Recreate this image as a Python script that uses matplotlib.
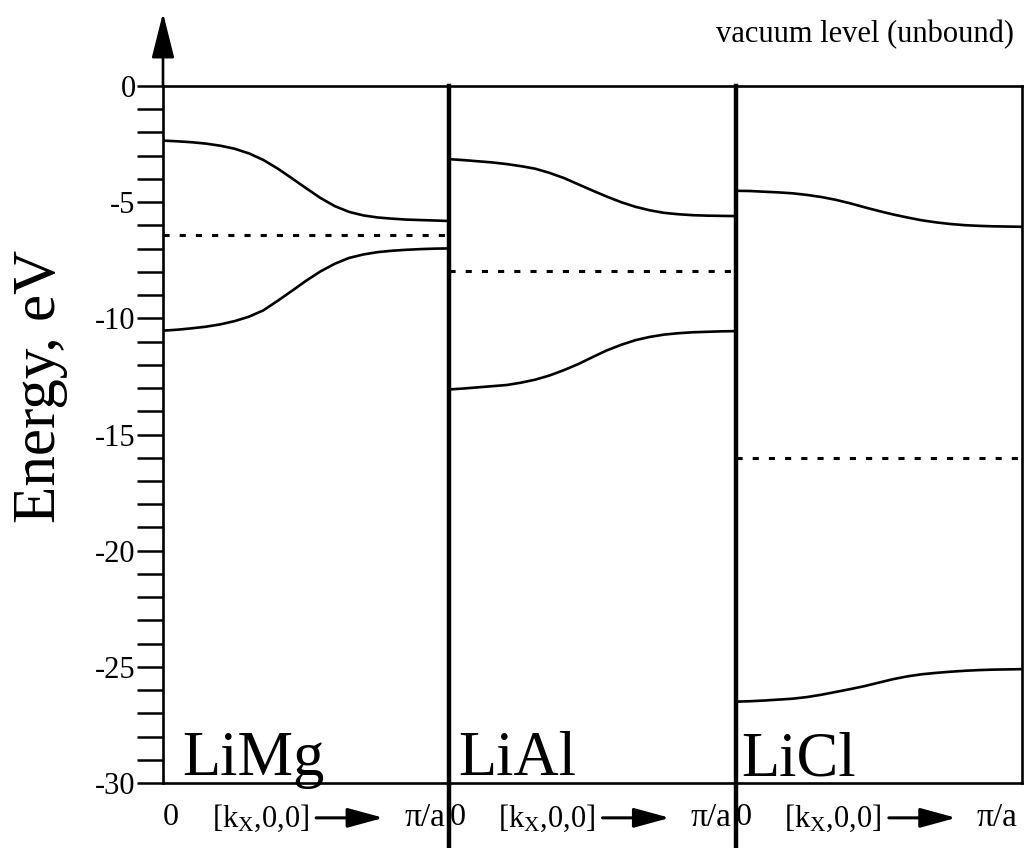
import numpy as np
import matplotlib
matplotlib.use('Agg')
import matplotlib.pyplot as plt
from matplotlib.ticker import MultipleLocator

plt.rcParams['font.family'] = ['Liberation Serif', 'DejaVu Serif']
plt.rcParams['mathtext.fontset'] = 'custom'
plt.rcParams['mathtext.rm'] = 'Liberation Serif'
plt.rcParams['mathtext.it'] = 'Liberation Serif:italic'
plt.rcParams['axes.unicode_minus'] = False

# k along [kx,0,0], in units of pi/a
k = [0.00, 0.05, 0.10, 0.15, 0.20, 0.25, 0.30, 0.35, 0.40, 0.45, 0.50,
     0.55, 0.60, 0.65, 0.70, 0.75, 0.80, 0.85, 0.90, 0.95, 1.00]

compounds = ['LiMg', 'LiAl', 'LiCl']

# upper bands, eV
upper_limg = [-2.35, -2.38, -2.42, -2.48, -2.57, -2.70, -2.90, -3.18, -3.55, -3.97, -4.40,
              -4.82, -5.17, -5.42, -5.57, -5.66, -5.71, -5.75, -5.77, -5.79, -5.81]
upper_lial = [-3.15, -3.19, -3.24, -3.29, -3.36, -3.45, -3.56, -3.74, -3.96, -4.23, -4.50,
              -4.76, -5.00, -5.20, -5.35, -5.46, -5.52, -5.56, -5.58, -5.59, -5.60]
upper_licl = [-4.51, -4.52, -4.55, -4.58, -4.62, -4.69, -4.78, -4.90, -5.05, -5.22, -5.38,
              -5.53, -5.66, -5.78, -5.87, -5.94, -5.99, -6.02, -6.04, -6.05, -6.06]

# lower bands, eV
lower_limg = [-10.53, -10.49, -10.43, -10.36, -10.26, -10.12, -9.93, -9.66, -9.25, -8.82, -8.38,
              -7.98, -7.65, -7.40, -7.25, -7.15, -7.09, -7.05, -7.02, -7.00, -6.99]
lower_lial = [-13.06, -13.02, -12.97, -12.92, -12.87, -12.77, -12.64, -12.46, -12.23, -11.97, -11.67,
              -11.38, -11.14, -10.94, -10.80, -10.70, -10.64, -10.60, -10.58, -10.56, -10.55]
lower_licl = [-26.50, -26.48, -26.45, -26.41, -26.37, -26.30, -26.20, -26.08, -25.96, -25.83, -25.68,
              -25.53, -25.41, -25.32, -25.26, -25.21, -25.17, -25.14, -25.12, -25.11, -25.10]

# dotted levels, eV
fermi = [-6.41, -7.96, -16.03]

uppers = [upper_limg, upper_lial, upper_licl]
lowers = [lower_limg, lower_lial, lower_licl]

fig = plt.figure(figsize=(10.29, 8.48), dpi=100)
axs = fig.subplots(1, 3, sharey=True,
                   gridspec_kw=dict(wspace=0, left=163/1029, right=1022/1029,
                                    bottom=1-783/848, top=1-86/848))

lab_x = [0.066, 0.03, 0.02]

for i, ax in enumerate(axs):
    ax.plot(k, uppers[i], color='k', lw=1.9)
    ax.plot(k, lowers[i], color='k', lw=1.9)
    ax.axhline(fermi[i], color='k', lw=2.2, dashes=[2.0, 3.3])
    ax.set_xlim(0, 1)
    ax.set_ylim(-30, 0)
    ax.set_xticks([])
    for s in ax.spines.values():
        s.set_linewidth(1.9)
    ax.text(lab_x[i], 0.011, compounds[i], transform=ax.transAxes,
            fontsize=45, va='baseline', ha='left')

    # bottom k-axis annotation
    ax.text(0.028, -0.05, '0', transform=ax.transAxes, fontsize=23,
            ha='center', va='center')
    ax.text(0.17, -0.05, r'$[\mathrm{k}_\mathrm{X}{,}\mathrm{0}{,}\mathrm{0}]$',
            transform=ax.transAxes, fontsize=22, ha='left', va='center')
    ax.annotate('', xy=(0.77, -0.05), xytext=(0.535, -0.05),
                xycoords='axes fraction', textcoords='axes fraction',
                arrowprops=dict(arrowstyle='-|>,head_length=2.2,head_width=0.6',
                                mutation_scale=10, lw=2.2, color='k',
                                shrinkA=0, shrinkB=0))
    ax.text(0.985, -0.05, 'π/a', transform=ax.transAxes, fontsize=24,
            ha='right', va='center')

# left energy axis
ax0 = axs[0]
ax0.yaxis.set_major_locator(MultipleLocator(5))
ax0.yaxis.set_minor_locator(MultipleLocator(1))
ax0.tick_params(axis='y', which='both', direction='out', length=18.7,
                width=1.8, labelsize=22, pad=1)
ax0.spines['right'].set_visible(False)
fig.text(40/1029, 1-386/848, 'Energy, eV', fontsize=44, rotation=90,
         ha='center', va='center')
ax0.annotate('', xy=(0, 1.105), xytext=(0, 1.0),
             xycoords='axes fraction', textcoords='axes fraction',
             arrowprops=dict(arrowstyle='-|>,head_length=2.8,head_width=0.7',
                             mutation_scale=10, lw=1.9, color='k',
                             shrinkA=0, shrinkB=0))

for ax in axs[1:]:
    ax.tick_params(axis='y', which='both', left=False, labelleft=False)
    ax.spines['left'].set_linewidth(3.2)
    # panel divider runs down through the k labels
    ax.plot([0, 0], [-0.1, 0], transform=ax.transAxes, color='k', lw=3.2,
            clip_on=False, solid_capstyle='butt')
axs[1].spines['right'].set_visible(False)

axs[2].text(0.973, 1.063, 'vacuum level (unbound)', transform=axs[2].transAxes,
            fontsize=22, ha='right', va='baseline')

fig.savefig('out.png', dpi=100)
